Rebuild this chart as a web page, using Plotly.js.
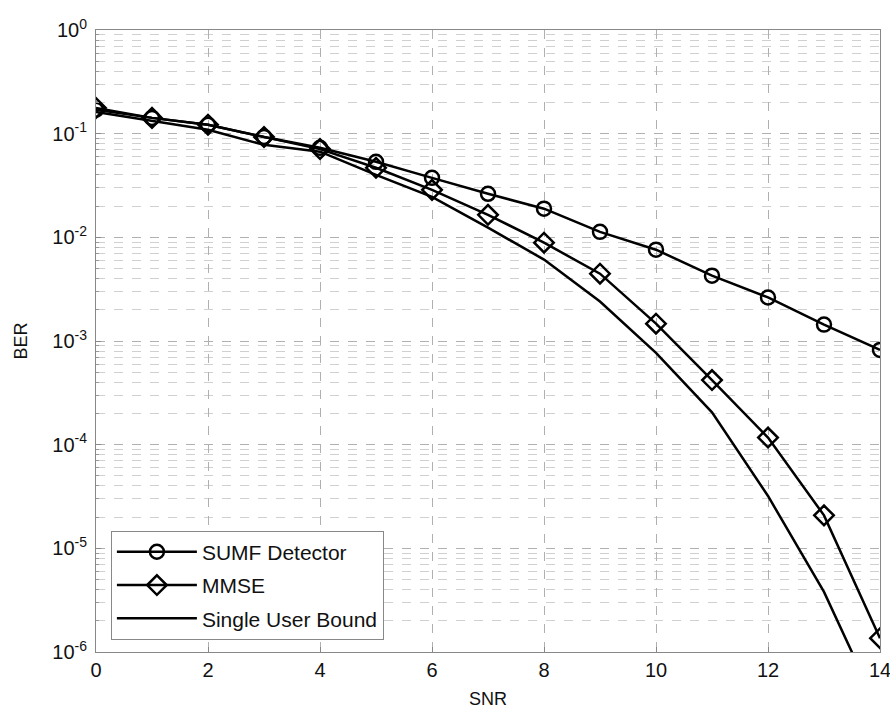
<!DOCTYPE html>
<html>
<head>
<meta charset="utf-8">
<script src="https://cdn.plot.ly/plotly-3.0.1.min.js"></script>
<style>html,body{margin:0;padding:0;background:#fff;}</style>
</head>
<body>
<div id="chart" style="width:890px;height:712px;"></div>
<script>
const snr = [0,1,2,3,4,5,6,7,8,9,10,11,12,13,14];
const sumfBER = [0.170,0.142,0.122,0.093,0.073,0.0535,0.0375,0.0263,0.0189,0.0113,0.0076,0.00427,0.00263,0.00144,0.00082];
const mmseBER = [0.177,0.142,0.122,0.093,0.071,0.0469,0.0287,0.0165,0.00887,0.00446,0.00147,0.00042,0.000117,0.0000208,0.00000136];
const singleBER = [0.162,0.133,0.109,0.078,0.067,0.040,0.0246,0.0124,0.0061,0.0024,0.00077,0.000205,0.000032,0.0000038,0.00000026];
const seriesNames = ['SUMF Detector','MMSE','Single User Bound'];
const xTicks = [0,2,4,6,8,10,12,14];
const yTickExp = [0,-1,-2,-3,-4,-5,-6];

const yTickVals = yTickExp.map(e => Math.pow(10, e));
const yTickText = yTickExp.map(e => '10<sup>' + e + '</sup>');
const minorVals = [];
yTickExp.forEach(e => { if (e < 0) for (let m = 2; m <= 9; m++) minorVals.push(m * Math.pow(10, e)); });

const lineStyle = {color: '#000', width: 2.5};
const traces = [
  {x: snr, y: sumfBER, name: seriesNames[0], legendgroup: 'a', mode: 'lines+markers', line: lineStyle,
   marker: {symbol: 'circle-open', size: 14, color: '#000', line: {width: 2.5, color: '#000'}}},
  {x: snr, y: mmseBER, name: seriesNames[1], legendgroup: 'b', mode: 'lines+markers', line: lineStyle,
   marker: {symbol: 'diamond-open', size: 15, color: '#000', line: {width: 2.5, color: '#000'}}},
  {x: snr, y: singleBER, name: seriesNames[2], legendgroup: 'c', mode: 'lines', line: lineStyle}
];

const layout = {
  width: 890, height: 712,
  margin: {l: 96, r: 10, t: 30, b: 60},
  paper_bgcolor: '#fff', plot_bgcolor: '#fff',
  font: {family: 'Liberation Sans, Arial, sans-serif', size: 18, color: '#111'},
  showlegend: true,
  legend: {x: 0.019, y: 0.02, xanchor: 'left', yanchor: 'bottom',
    bgcolor: '#fff', bordercolor: '#888', borderwidth: 1,
    traceorder: 'grouped', tracegroupgap: 3, itemwidth: 80,
    font: {size: 21, family: 'Liberation Sans, Arial, sans-serif', color: '#111'}},
  xaxis: {
    range: [0, 14], tickvals: xTicks, ticktext: xTicks.map(String),
    showgrid: true, gridcolor: '#b0b0b0', griddash: 'dash', gridwidth: 1,
    zeroline: false, showline: true, mirror: true, linecolor: '#888', linewidth: 1,
    ticks: 'inside', ticklen: 5, tickcolor: '#888', ticklabeloverflow: 'allow',
    title: {text: 'SNR', standoff: 12, font: {size: 18}},
    tickfont: {size: 20}
  },
  yaxis: {
    type: 'log', range: [-6, 0], tickvals: yTickVals, ticktext: yTickText,
    showgrid: true, gridcolor: '#b0b0b0', griddash: 'dash', gridwidth: 1,
    zeroline: false, showline: true, mirror: true, linecolor: '#888', linewidth: 1,
    ticks: 'inside', ticklen: 5, tickcolor: '#888', ticklabelstandoff: 4,
    minor: {tickvals: minorVals, showgrid: true, gridcolor: '#d0d0d0', griddash: 'dash', gridwidth: 1, ticks: 'inside', ticklen: 3, tickcolor: '#999'},
    title: {text: 'BER', standoff: 19, font: {size: 18}},
    tickfont: {size: 20}
  }
};

Plotly.newPlot('chart', traces, layout, {displayModeBar: false, staticPlot: true});
</script>
</body>
</html>
